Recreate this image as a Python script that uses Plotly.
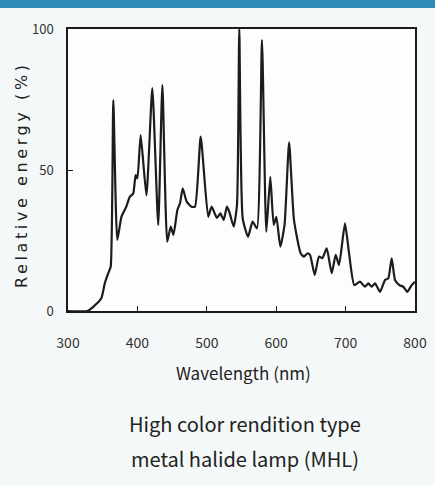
import plotly.graph_objects as go

wavelength_nm = [300, 328, 336, 348, 353, 358, 361.5, 365.3, 371, 377, 384, 389, 394, 397.5, 400,
                 404.7, 413, 421.5, 430, 436, 443, 448, 452, 457.6, 461.4, 465.3, 471, 478, 483,
                 491.2, 502, 507, 514.5, 519.5, 524.3, 529, 532.4, 538.7, 543.5, 546.8, 551.7,
                 559.4, 566, 572.3, 579.5, 585.7, 591.5, 596.4, 600.2, 606, 612, 618.6, 625.6,
                 635.3, 640, 644.8, 648.7, 655.5, 661.7, 666.4, 672.8, 680, 685.7, 690.5, 699.1,
                 705, 712.5, 720.7, 727.9, 732.7, 737.6, 742.4, 749.6, 756.8, 761.5, 766.4, 771.2,
                 777.4, 783.1, 788.9, 795.2, 800]
relative_energy = [0, 0, 1.4, 4.5, 9.8, 13.4, 15.7, 74.8, 25.2, 33.4, 37, 40.5, 41.7, 48.2, 47,
                   62.4, 41, 79, 30.5, 80.1, 24.6, 29.9, 27, 35.8, 38.2, 43.5, 38.8, 37, 37,
                   61.8, 33.4, 37, 33, 34.6, 32.3, 37, 35.2, 29.9, 37.6, 100, 32.9,
                   26.3, 31.7, 29.3, 96.1, 28.1, 47.6, 30.5, 33.4, 22.8, 30.5, 59.8, 32.3,
                   20.4, 19.3, 20.4, 19.9, 12.8, 19.3, 18.7, 22.2, 13.4, 19.9, 16.3, 31.1,
                   20.4, 9.2, 10.4, 8.6, 9.8, 8.6, 9.8, 6.8, 11, 11.6, 18.7, 11,
                   9.2, 8.6, 6.8, 9.2, 10.4]

x_ticks = [300, 400, 500, 600, 700, 800]
y_ticks = [0, 50, 100]

x_title = "Wavelength (nm)"
y_title = "Relative energy (%)"
caption_lines = ["High color rendition type", "metal halide lamp (MHL)"]

fig = go.Figure()
fig.add_trace(go.Scatter(
    x=wavelength_nm, y=relative_energy, mode="lines",
    line=dict(color="#1c1c1c", width=2.2, shape="spline", smoothing=0.5),
    hoverinfo="skip", showlegend=False,
))

W, H = 435, 485
ml, mr, mt, mb = 68, 20, 29, 174
ph = H - mt - mb
pw = W - ml - mr


def px_x(x):
    return (x - ml) / pw


def px_y(y):
    return 1 - (y - mt) / ph


tick_font = "Noto Sans CJK JP, sans-serif"

fig.update_layout(
    width=W, height=H,
    margin=dict(l=ml, r=mr, t=mt, b=mb, autoexpand=False),
    paper_bgcolor="#f5f8f8",
    plot_bgcolor="#fdfdfd",
    showlegend=False,
    xaxis=dict(
        range=[300, 800], tickvals=x_ticks, ticktext=[str(v) for v in x_ticks],
        showgrid=False, zeroline=False, automargin=False,
        showline=True, linecolor="#1a1a1a", linewidth=1.5, mirror=True,
        ticks="inside", ticklen=5, tickcolor="#1a1a1a", tickwidth=1,
        tickfont=dict(family=tick_font, size=14, color="#333"),
        ticklabelstandoff=18,
    ),
    yaxis=dict(
        range=[0, 100], tickvals=y_ticks, ticktext=[str(v) for v in y_ticks],
        showgrid=False, zeroline=False, automargin=False,
        showline=True, linecolor="#1a1a1a", linewidth=1.5, mirror=True,
        ticks="inside", ticklen=5, tickcolor="#1a1a1a", tickwidth=1,
        tickfont=dict(family=tick_font, size=13, color="#333"),
        ticklabelstandoff=10,
    ),
)

# top blue banner
fig.add_shape(type="rect", xref="paper", yref="paper",
              x0=px_x(0), x1=px_x(W),
              y0=px_y(8), y1=px_y(0),
              fillcolor="#2e8ab9", line=dict(width=0), layer="above")

# axis titles
fig.add_annotation(text=x_title, xref="paper", yref="paper",
                   x=px_x(243), y=px_y(372), showarrow=False,
                   xanchor="center", yanchor="middle",
                   font=dict(family="Noto Sans CJK JP, sans-serif", size=17, color="#222"))
fig.add_annotation(text='<span style="letter-spacing:3.6px">' + y_title + '</span>',
                   xref="paper", yref="paper", textangle=-90,
                   x=px_x(21), y=px_y(175), showarrow=False,
                   xanchor="center", yanchor="middle",
                   font=dict(family="DejaVu Sans, sans-serif", size=16, color="#222"))

# caption
fig.add_annotation(text=caption_lines[0], xref="paper", yref="paper",
                   x=px_x(245), y=px_y(423), showarrow=False,
                   xanchor="center", yanchor="middle",
                   font=dict(family="Noto Sans CJK JP, sans-serif", size=20, color="#222"))
fig.add_annotation(text=caption_lines[1], xref="paper", yref="paper",
                   x=px_x(245), y=px_y(458), showarrow=False,
                   xanchor="center", yanchor="middle",
                   font=dict(family="Noto Sans CJK JP, sans-serif", size=20, color="#222"))

fig.write_html(
    "out.html",
    config={"displayModeBar": False},
    post_script="document.body.style.margin='0';document.body.style.background='#f5f8f8';",
)
